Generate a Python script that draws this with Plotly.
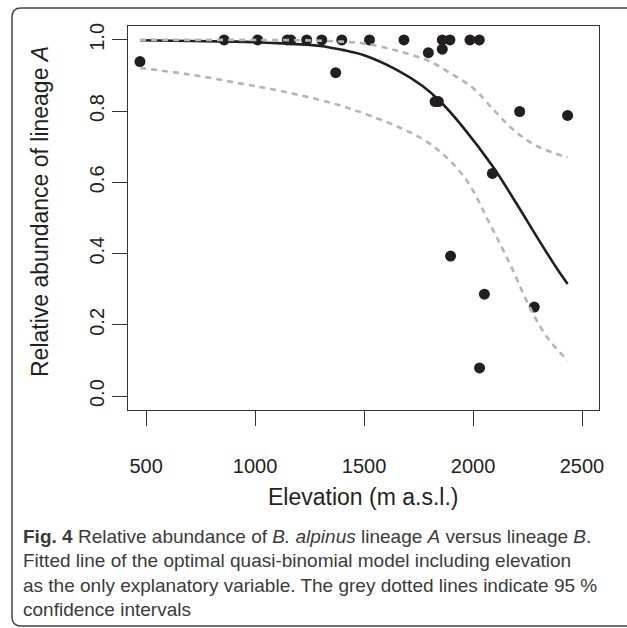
import plotly.graph_objects as go

# ---- data ----
elev = [472, 858, 1012, 1148, 1164, 1237, 1306, 1370, 1398, 1525, 1683, 1795, 1826,
        1841, 1859, 1859, 1894, 1897, 1986, 2029, 2030, 2052, 2089, 2214, 2281, 2434]
abund = [0.939, 1.0, 1.0, 1.0, 1.0, 1.0, 1.0, 0.908, 1.0, 1.0, 1.0, 0.964, 0.827,
         0.827, 1.0, 0.974, 1.0, 0.393, 1.0, 1.0, 0.079, 0.286, 0.625, 0.799, 0.25, 0.788]

fit_x = [472, 700, 900, 1100, 1300, 1400, 1500, 1650, 1770, 1850, 1950, 2090, 2200, 2300, 2384, 2434]
fit_y = [0.999, 0.997, 0.995, 0.991, 0.983, 0.972, 0.957, 0.916, 0.87, 0.827, 0.758, 0.645,
         0.54, 0.44, 0.359, 0.315]

upper_x = [472, 900, 1200, 1400, 1500, 1650, 1800, 1900, 2000, 2100, 2200, 2300, 2434]
upper_y = [1.0, 1.0, 0.999, 0.995, 0.99, 0.97, 0.94, 0.905, 0.865, 0.80, 0.74, 0.70, 0.67]

lower_x = [472, 700, 930, 1130, 1400, 1670, 1810, 1960, 2080, 2170, 2260, 2340, 2434]
lower_y = [0.921, 0.903, 0.878, 0.855, 0.814, 0.752, 0.705, 0.615, 0.48, 0.37, 0.25, 0.165, 0.1]

x_ticks = [500, 1000, 1500, 2000, 2500]
y_ticks = [0.0, 0.2, 0.4, 0.6, 0.8, 1.0]
y_tick_text = ["0.0", "0.2", "0.4", "0.6", "0.8", "1.0"]

caption_lines = [
    "<b>Fig. 4</b> Relative abundance of <i>B. alpinus</i> lineage <i>A</i> versus lineage <i>B</i>.",
    "Fitted line of the optimal quasi-binomial model including elevation",
    "as the only explanatory variable. The grey dotted lines indicate 95 %",
    "confidence intervals",
]

# ---- layout geometry (pixels) ----
W, H = 627, 628
L, R, T, B = 128, 599, 26, 410
pw, ph = R - L, B - T


def px(x):
    return (x - L) / pw


def py(y):
    return (B - y) / ph


fig = go.Figure()
fig.add_trace(go.Scatter(x=elev, y=abund, mode="markers",
                         marker=dict(color="#231f20", size=11, line=dict(width=0)),
                         showlegend=False, hoverinfo="skip"))
fig.add_trace(go.Scatter(x=fit_x, y=fit_y, mode="lines", line_shape="spline",
                         line=dict(color="#231f20", width=2.6), showlegend=False))
fig.add_trace(go.Scatter(x=upper_x, y=upper_y, mode="lines", line_shape="spline",
                         line=dict(color="#b5b5b5", width=2.6, dash="6px,5px"), showlegend=False))
fig.add_trace(go.Scatter(x=lower_x, y=lower_y, mode="lines", line_shape="spline",
                         line=dict(color="#b5b5b5", width=2.6, dash="6px,5px"), showlegend=False))

axis_common = dict(showline=True, mirror=True, linecolor="#333333", linewidth=1.3,
                   ticks="outside", ticklen=15, tickwidth=1.3, tickcolor="#333333",
                   showgrid=False, zeroline=False,
                   tickfont=dict(family="Liberation Sans, Arial, sans-serif", size=20, color="#231f20"))

fig.update_xaxes(range=[417, 2578], tickvals=x_ticks, ticklabelstandoff=23, **axis_common)
fig.update_yaxes(range=[-0.039, 1.039], tickvals=y_ticks, ticktext=y_tick_text,
                 tickangle=-90, ticklabelstandoff=0, **axis_common)

annotations = [
    dict(text="Elevation (m a.s.l.)", x=px(363), y=py(497), xref="paper", yref="paper",
         showarrow=False, xanchor="center", yanchor="middle",
         font=dict(family="Liberation Sans, Arial, sans-serif", size=23, color="#231f20")),
    dict(text="Relative abundance of lineage <i>A</i>", x=px(40), y=py(212), xref="paper",
         yref="paper", showarrow=False, xanchor="center", yanchor="middle", textangle=-90,
         font=dict(family="Liberation Sans, Arial, sans-serif", size=23, color="#231f20")),
]
for i, line in enumerate(caption_lines):
    annotations.append(dict(text=line, x=px(21), y=py(536 + 24.5 * i), xref="paper", yref="paper",
                            showarrow=False, xanchor="left", yanchor="middle", align="left",
                            font=dict(family="Liberation Sans, Arial, sans-serif",
                                      size=19, color="#3a3a3a")))

# rounded caption frame
x0, y0, y1, x1 = px(12), py(8), py(626), px(640)
rx, ry = 9 / pw, 9 / ph
frame = (f"M {x1},{y0} L {x0 + rx},{y0} Q {x0},{y0} {x0},{y0 - ry} "
         f"L {x0},{y1 + ry} Q {x0},{y1} {x0 + rx},{y1} L {x1},{y1}")

fig.update_layout(
    width=W, height=H,
    margin=dict(l=L, r=W - R, t=T, b=H - B, pad=0),
    paper_bgcolor="white", plot_bgcolor="white",
    annotations=annotations,
    hovermode=False,
    shapes=[dict(type="path", path=frame, xref="paper", yref="paper",
                 line=dict(color="#444444", width=1.5))],
)

fig.write_html("out.html", config={"displayModeBar": False},
               post_script="document.body.style.margin='0';document.body.style.overflow='hidden';")
